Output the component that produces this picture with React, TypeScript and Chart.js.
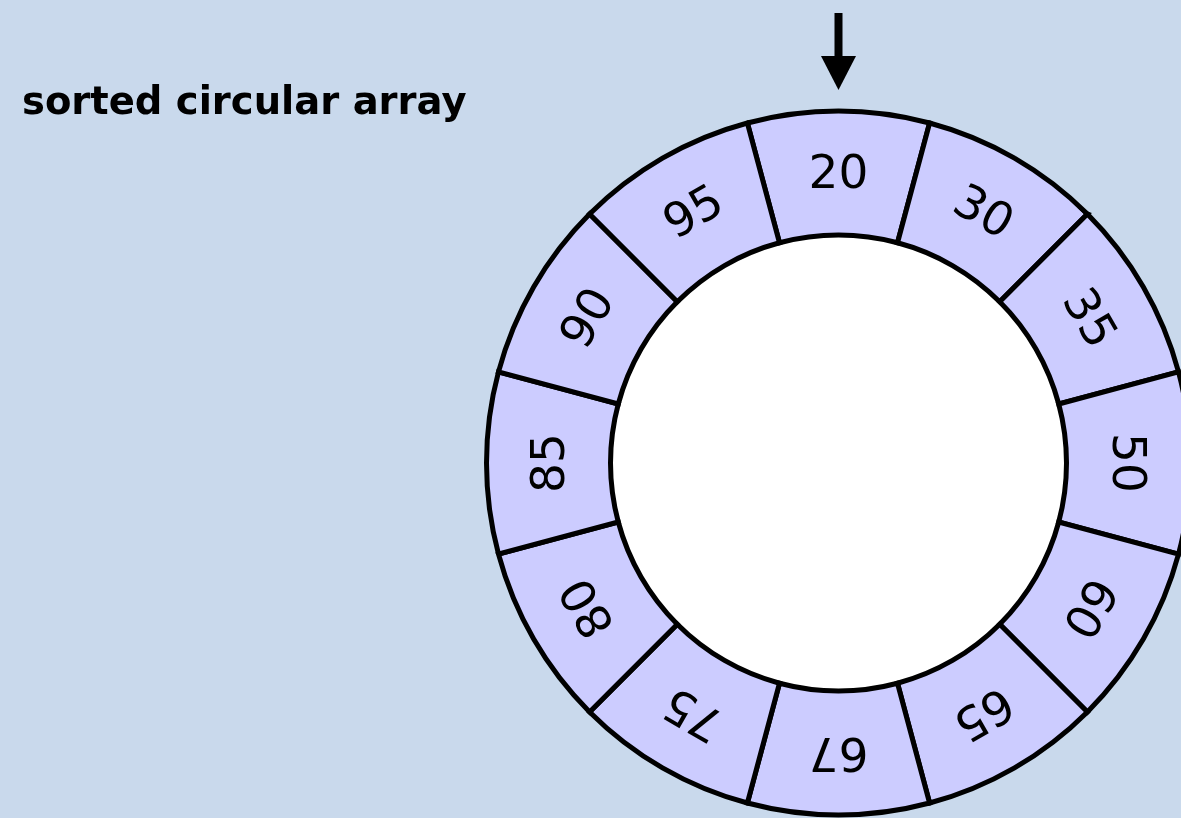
import React, { useEffect, useRef } from 'react';
import { Chart, registerables } from 'chart.js';

Chart.register(...registerables);

const TITLE = 'sorted circular array';
const segmentLabels = ['20', '30', '35', '50', '60', '65', '67', '75', '80', '85', '90', '95'];
const segmentWeights = [1, 1, 1, 1, 1, 1, 1, 1, 1, 1, 1, 1];

const BG = '#c9d9ec';
const FILL = '#ccccff';
const W = 1181;
const H = 818;
const CX = 838.5;
const CY = 463;
const OUTER = 352;
const INNER = 228;
const HALF = 300;

const decor = {
  id: 'decor',
  beforeDraw(chart: any) {
    const ctx = chart.ctx;
    ctx.save();
    ctx.fillStyle = BG;
    ctx.fillRect(0, 0, chart.width, chart.height);
    ctx.restore();
  },
  beforeDatasetsDraw(chart: any) {
    const meta = chart.getDatasetMeta(0);
    const a = meta.data[0];
    if (!a) return;
    const { x, y, innerRadius } = a.getProps(['x', 'y', 'innerRadius'], true);
    const ctx = chart.ctx;
    ctx.save();
    ctx.fillStyle = '#ffffff';
    ctx.beginPath();
    ctx.arc(x, y, innerRadius, 0, Math.PI * 2);
    ctx.fill();
    ctx.restore();
  },
  afterDatasetsDraw(chart: any) {
    const ctx = chart.ctx;
    const meta = chart.getDatasetMeta(0);
    const labels = chart.data.labels as string[];
    const fs = 47;
    ctx.save();
    ctx.fillStyle = '#000';
    ctx.font = `${fs}px "DejaVu Sans"`;
    ctx.textAlign = 'center';
    ctx.textBaseline = 'alphabetic';
    meta.data.forEach((el: any, i: number) => {
      const p = el.getProps(['x', 'y', 'startAngle', 'endAngle', 'innerRadius', 'outerRadius'], true);
      const mid = (p.startAngle + p.endAngle) / 2;
      const r = (p.innerRadius + p.outerRadius) / 2 + 2;
      ctx.save();
      ctx.translate(p.x + Math.cos(mid) * r, p.y + Math.sin(mid) * r);
      ctx.rotate(mid + Math.PI / 2);
      ctx.fillText(labels[i], 0, (fs * 0.729) / 2);
      ctx.restore();
    });
    ctx.restore();

    // arrow pointing at the first element
    const first = meta.data[0];
    if (first) {
      const p = first.getProps(['x', 'y', 'outerRadius'], true);
      const top = p.y - p.outerRadius;
      const tip = top - 21;
      const headBase = tip - 34;
      ctx.save();
      ctx.fillStyle = '#000';
      ctx.fillRect(p.x - 4, 13, 8, headBase - 13 + 1);
      ctx.beginPath();
      ctx.moveTo(p.x - 17.5, headBase);
      ctx.lineTo(p.x + 17.5, headBase);
      ctx.lineTo(p.x, tip);
      ctx.closePath();
      ctx.fill();
      ctx.restore();
    }

    // title
    ctx.save();
    ctx.fillStyle = '#000';
    ctx.font = 'bold 38.5px "DejaVu Sans"';
    ctx.textAlign = 'left';
    ctx.textBaseline = 'alphabetic';
    ctx.fillText(TITLE, 22, 114);
    ctx.restore();
  },
};

export default function App() {
  const ref = useRef<HTMLCanvasElement | null>(null);
  useEffect(() => {
    document.body.style.margin = '0';
    document.body.style.background = BG;
    document.body.style.overflow = 'hidden';
    const canvas = ref.current;
    if (!canvas) return;
    const chart = new Chart(canvas, {
      type: 'doughnut',
      data: {
        labels: segmentLabels,
        datasets: [
          {
            data: segmentWeights,
            backgroundColor: FILL,
            borderColor: '#000000',
            borderWidth: 5,
            borderJoinStyle: 'miter',
            hoverOffset: 0,
          } as any,
        ],
      },
      options: {
        responsive: false,
        animation: false,
        events: [],
        rotation: -15,
        circumference: 360,
        radius: OUTER,
        cutout: `${(INNER / OUTER) * 100}%`,
        layout: {
          padding: {
            left: CX - HALF,
            right: W - (CX + HALF),
            top: CY - HALF,
            bottom: H - (CY + HALF),
          },
        },
        plugins: {
          legend: { display: false },
          tooltip: { enabled: false },
          title: { display: false },
        },
      } as any,
      plugins: [decor],
    });
    return () => chart.destroy();
  }, []);
  return (
    <div style={{ position: 'fixed', left: 0, top: 0, width: W, height: H, background: BG }}>
      <canvas ref={ref} width={W} height={H} style={{ display: 'block', width: W, height: H }} />
    </div>
  );
}
